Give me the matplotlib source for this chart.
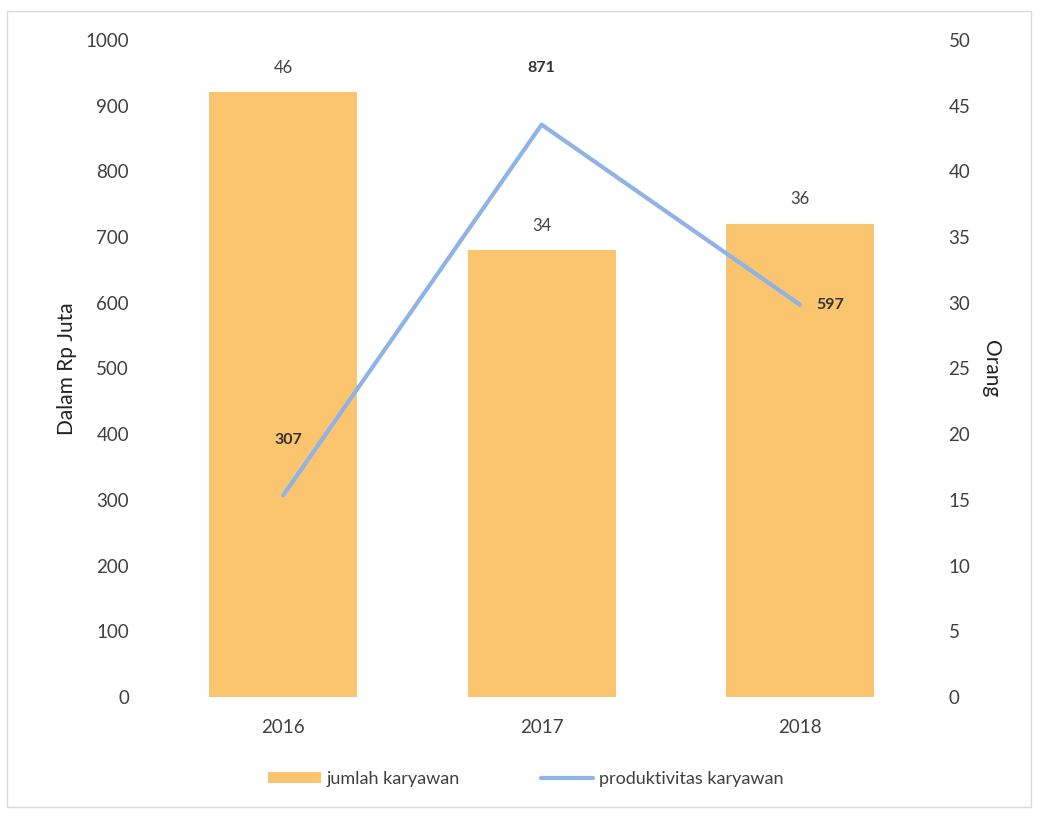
import matplotlib
matplotlib.use("Agg")
import matplotlib.pyplot as plt
from matplotlib.patches import Rectangle

# data
tahun = ["2016", "2017", "2018"]
jumlah_karyawan = [46, 34, 36]                 # Orang (right axis)
produktivitas_karyawan = [307, 871, 597]       # Dalam Rp Juta (left axis)

left_ticks = [0, 100, 200, 300, 400, 500, 600, 700, 800, 900, 1000]
right_ticks = [0, 5, 10, 15, 20, 25, 30, 35, 40, 45, 50]

plt.rcParams['font.family'] = ['Lato', 'DejaVu Sans']

bar_color = '#fbc56f'
line_color = '#8fb3e6'
text_color = '#404040'

fig = plt.figure(figsize=(10.37, 8.14), dpi=100)
ax = fig.add_axes([0.1485, 0.1437, 0.7475, 0.8073])
ax2 = ax.twinx()

x = list(range(len(tahun)))

# bars on right axis
bars = ax2.bar(x, jumlah_karyawan, width=0.573, color=bar_color, label='jumlah karyawan')
for xi, v in zip(x, jumlah_karyawan):
    ax2.annotate(str(v), (xi, v), xytext=(0, 12), textcoords='offset points',
                 ha='center', va='bottom', fontsize=12, color=text_color)

# line on left axis, drawn above the bars
line, = ax.plot(x, produktivitas_karyawan, color=line_color, linewidth=3,
                solid_capstyle='round', label='produktivitas karyawan')
offsets = [(4, 40), (0, 41), (22, 0)]
for xi, v, off in zip(x, produktivitas_karyawan, offsets):
    ax.annotate(str(v), (xi, v), xytext=off, textcoords='offset points',
                ha='center', va='center', fontsize=11.5, fontweight='bold', color='#333333')

ax.set_zorder(ax2.get_zorder() + 1)
ax.patch.set_visible(False)

ax.set_xlim(-0.5, 2.5)
ax.set_ylim(0, 1000)
ax2.set_ylim(0, 50)
ax.set_yticks(left_ticks)
ax2.set_yticks(right_ticks)
ax.set_xticks(x)
ax.set_xticklabels(tahun)

for a in (ax, ax2):
    for s in a.spines.values():
        s.set_visible(False)
ax.tick_params(axis='y', length=0, pad=18, labelsize=13.5, labelcolor=text_color)
ax2.tick_params(axis='y', length=0, pad=14, labelsize=13.5, labelcolor=text_color)
ax.tick_params(axis='x', length=0, pad=16, labelsize=13.5, labelcolor=text_color)

ax.set_ylabel('Dalam Rp Juta', fontsize=15, color='#222222', labelpad=6)
ax2.set_ylabel('Orang', fontsize=15, color='#222222', rotation=-90, labelpad=22)

fig.legend([bars, line], ['jumlah karyawan', 'produktivitas karyawan'],
           loc='center', bbox_to_anchor=(0.507, 0.043), ncol=2, frameon=False,
           fontsize=13, handlelength=2.9, handleheight=0.6, columnspacing=4.5,
           handletextpad=0.3, labelcolor=text_color)

# light chart border
fig.patches.append(Rectangle((0.007, 0.009), 0.987, 0.977, transform=fig.transFigure,
                             fill=False, edgecolor='#d9d9d9', linewidth=1))

fig.savefig("out.png", dpi=100)
